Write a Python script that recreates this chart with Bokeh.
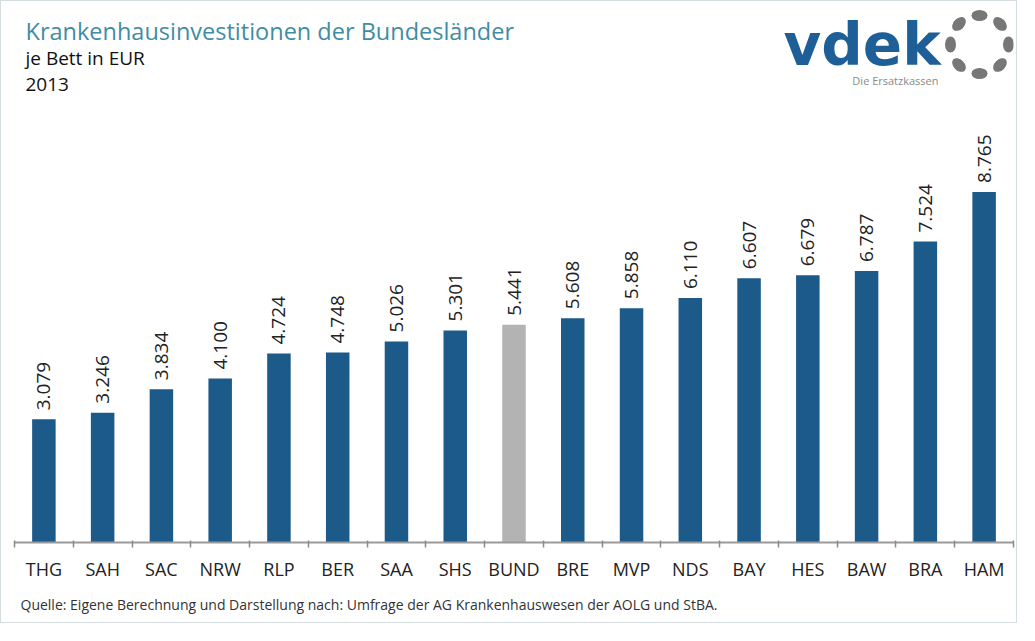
import math
from bokeh.plotting import figure
from bokeh.models import ColumnDataSource, Label, LinearAxis, FixedTicker, Range1d, Title
from bokeh.core.properties import value
from bokeh.embed import file_html
from bokeh.resources import INLINE

# ---- data ----
categories = ["THG", "SAH", "SAC", "NRW", "RLP", "BER", "SAA", "SHS", "BUND",
              "BRE", "MVP", "NDS", "BAY", "HES", "BAW", "BRA", "HAM"]
values = [3079, 3246, 3834, 4100, 4724, 4748, 5026, 5301, 5441,
          5608, 5858, 6110, 6607, 6679, 6787, 7524, 8765]
highlight = "BUND"

title_text = "Krankenhausinvestitionen der Bundesländer"
subtitle_text = "je Bett in EUR"
year_text = "2013"
source_text = "Quelle: Eigene Berechnung und Darstellung nach: Umfrage der AG Krankenhauswesen der AOLG und StBA."

# ---- layout helpers (page pixels -> data) ----
FRAME_LEFT = 22.0
FRAME_BOTTOM = 550.0
UNITS_PER_PX_Y = 25.0
PX_PER_X = 999.0 / 17.0

def px2x(px):
    return -0.5 + (px - FRAME_LEFT) / PX_PER_X

def px2y(py):
    return (FRAME_BOTTOM - py) * UNITS_PER_PX_Y

BLUE = "#1c5a8a"
GREY = "#b3b3b3"

xs = list(range(len(categories)))
labels = [f"{v:,}".replace(",", ".") for v in values]
colors = [GREY if c == highlight else BLUE for c in categories]
label_y = [v + 9 * UNITS_PER_PX_Y for v in values]

src = ColumnDataSource(dict(x=xs, val=values, lab=labels, color=colors, ly=label_y))

p = figure(width=1017, height=623,
           x_range=Range1d(-0.5, 16.5), y_range=Range1d(0, 541 * UNITS_PER_PX_Y),
           output_backend="svg", toolbar_location=None,
           x_axis_location=None, y_axis_location=None,
           min_border_left=13, min_border_right=5, min_border_top=0, min_border_bottom=82,
           outline_line_color=None, background_fill_color="white", border_fill_color="white",
           styles={"border": "1px solid #d6dde0"})
p.xgrid.grid_line_color = None
p.ygrid.grid_line_color = None

p.vbar(x="x", top="val", bottom=0, width=0.4, fill_color="color", line_color=None, source=src)

p.text(x="x", y="ly", text="lab", angle=math.pi / 2, text_align="left", text_baseline="middle",
       text_font=value("Open Sans"), text_font_size="19px", text_color="#222222", source=src)

axis = LinearAxis(ticker=FixedTicker(ticks=xs, minor_ticks=[i - 0.5 for i in range(len(categories) + 1)]),
                  major_label_overrides={i: c for i, c in enumerate(categories)})
axis.axis_line_color = "#9a9a9a"
axis.axis_line_width = 2
axis.major_tick_line_color = None
axis.major_tick_out = 0
axis.major_tick_in = 0
axis.minor_tick_line_color = "#8a8a8a"
axis.minor_tick_line_width = 1.5
axis.minor_tick_out = 5
axis.minor_tick_in = 2
axis.major_label_text_font = "Open Sans"
axis.major_label_text_font_size = "18px"
axis.major_label_text_color = "#222222"
axis.major_label_standoff = 9
p.add_layout(axis, "below")

# source line below the axis
p.add_layout(Title(text=source_text, align="left", offset=6, standoff=19,
                   text_font="Open Sans", text_font_size="14px", text_font_style="normal",
                   text_color="#333333"), "below")

# titles
p.add_layout(Label(x=px2x(33), y=px2y(38), text=title_text, text_baseline="middle",
                   text_font="Open Sans", text_font_size="23.5px", text_color="#3f8da5"))
p.add_layout(Label(x=px2x(33), y=px2y(65), text=subtitle_text, text_baseline="middle",
                   text_font="Open Sans", text_font_size="19px", text_color="#111111"))
p.add_layout(Label(x=px2x(33), y=px2y(92), text=year_text, text_baseline="middle",
                   text_font="Open Sans", text_font_size="19px", text_color="#111111"))

# logo
p.add_layout(Label(x=px2x(791), y=px2y(52), text="vdek", text_baseline="middle",
                   text_font="DejaVu Sans", text_font_style="bold", text_font_size="58px",
                   text_color="#1d5f96"))
p.add_layout(Label(x=px2x(946), y=px2y(88), text="Die Ersatzkassen", text_baseline="middle",
                   text_align="right", text_font="Open Sans", text_font_size="11px",
                   text_color="#8a8a8a"))
cx, cy, r = 987.0, 52.0, 29.0
angs = [k * math.pi / 4 for k in range(8)]
dot_x = [px2x(cx + r * math.cos(a)) for a in angs]
dot_y = [px2y(cy - r * math.sin(a)) for a in angs]
dot_ang = [a + math.pi / 2 for a in angs]
p.ellipse(x=dot_x, y=dot_y, width=16, height=11, angle=dot_ang,
          width_units="screen", height_units="screen", fill_color="#777777", line_color=None)

open("out.html", "w").write(file_html(p, INLINE))
